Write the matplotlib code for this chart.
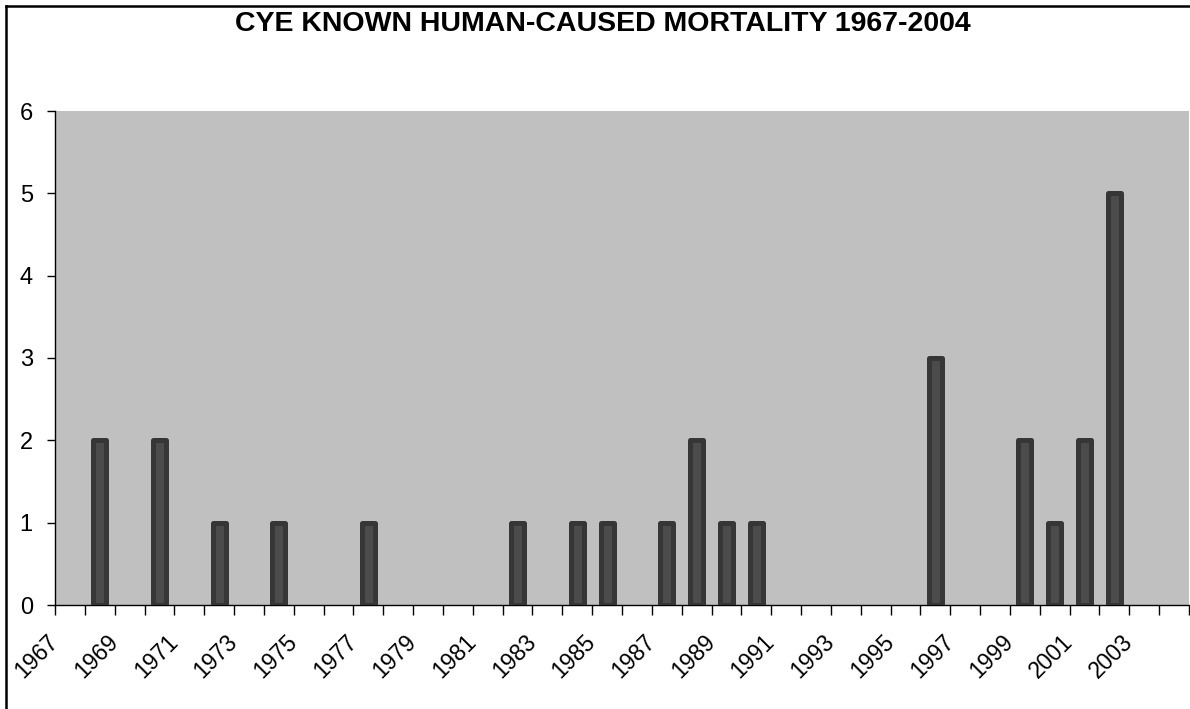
import matplotlib.pyplot as plt
from matplotlib.lines import Line2D

plt.rcParams['font.family'] = ['Liberation Sans', 'DejaVu Sans']

# one category per year, 1967-2004
years = list(range(1967, 2005))
deaths = {1968: 2, 1970: 2, 1972: 1, 1974: 1, 1977: 1, 1982: 1, 1984: 1,
          1985: 1, 1987: 1, 1988: 2, 1989: 1, 1990: 1, 1996: 3, 1999: 2,
          2000: 1, 2001: 2, 2002: 5}
values = [deaths.get(y, 0) for y in years]
y_ticks = [0, 1, 2, 3, 4, 5, 6]
title = "CYE KNOWN HUMAN-CAUSED MORTALITY 1967-2004"

fig = plt.figure(figsize=(11.9, 7.09), dpi=100)
ax = fig.add_axes([55 / 1190, 1 - 605 / 709, 1134 / 1190, 494 / 709])
ax.set_facecolor('#c0c0c0')

# only years with a recorded death get a bar
pos = [i for i, v in enumerate(values) if v > 0]
hts = [values[i] for i in pos]
ax.bar(pos, hts, width=0.44, facecolor='#4b4b4b', edgecolor='#363636',
       linewidth=3.6, joinstyle='round', zorder=3)

ax.set_xlim(-0.5, len(years) - 0.5)
ax.set_ylim(0, 6)
ax.set_yticks(y_ticks)
ax.tick_params(axis='y', direction='out', length=6, width=1, pad=10, labelsize=17)

# tick marks on the category boundaries, labels on every second one
bounds = [i - 0.5 for i in range(len(years) + 1)]
labels = [str(years[i]) if i < len(years) and i % 2 == 0 else '' for i in range(len(bounds))]
ax.set_xticks(bounds)
ax.set_xticklabels(labels, rotation=45, ha='right', va='center', rotation_mode='anchor')
ax.tick_params(axis='x', direction='out', length=7, width=1, pad=17, labelsize=16.5)

for s in ['top', 'right']:
    ax.spines[s].set_visible(False)
ax.spines['left'].set_linewidth(1)
ax.spines['bottom'].set_linewidth(1)

fig.text(603 / 1190, 1 - 24 / 709, title, ha='center', va='center',
         fontsize=20.5, fontweight='bold')

# chart frame (only top and left edges fall inside the picture)
fig.add_artist(Line2D([6 / 1190, 1.01], [1 - 6 / 709, 1 - 6 / 709], color='black', lw=1.8))
fig.add_artist(Line2D([6 / 1190, 6 / 1190], [-0.01, 1 - 6 / 709], color='black', lw=1.8))

fig.savefig('out.png', dpi=100)
